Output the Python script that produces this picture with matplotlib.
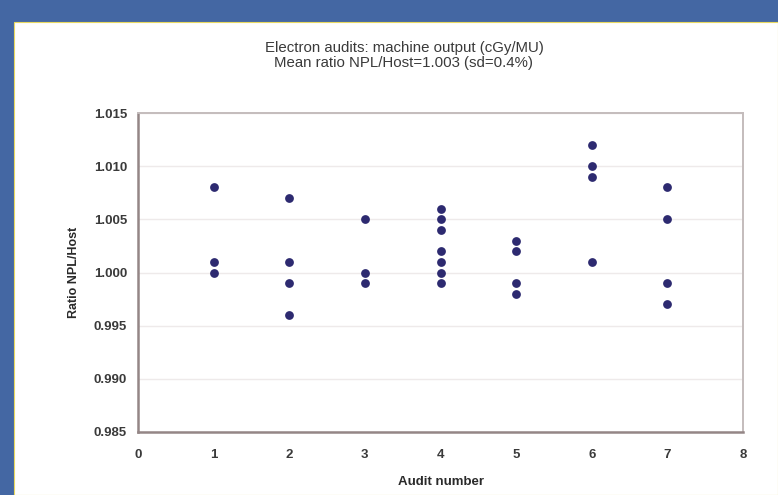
import matplotlib
matplotlib.use('Agg')
import matplotlib.pyplot as plt
from matplotlib.patches import Rectangle

# audit number -> measured NPL/Host ratios
audits = [1, 2, 3, 4, 5, 6, 7]
ratios = [
    [1.008, 1.001, 1.000],
    [1.007, 1.001, 0.999, 0.996],
    [1.005, 1.000, 0.999],
    [1.006, 1.005, 1.004, 1.002, 1.001, 1.000, 0.999],
    [1.003, 1.002, 0.999, 0.998],
    [1.012, 1.010, 1.009, 1.001],
    [1.008, 1.005, 0.999, 0.997],
]
x_ticks = [0, 1, 2, 3, 4, 5, 6, 7, 8]
y_ticks = [0.985, 0.990, 0.995, 1.000, 1.005, 1.010, 1.015]
title_lines = ["Electron audits: machine output (cGy/MU)",
               "Mean ratio NPL/Host=1.003 (sd=0.4%)"]

plt.rcParams['font.family'] = ['Liberation Sans', 'DejaVu Sans']

W, H = 778, 495
fig = plt.figure(figsize=(W / 100, H / 100), dpi=100)
fig.patch.set_facecolor('#4467a3')

# white slide panel with thin yellow edge
panel = Rectangle((14 / W, 0), 1 - 14 / W, 1 - 22 / H, transform=fig.transFigure,
                  facecolor='white', edgecolor='#e8d860', linewidth=0.8, zorder=-1)
fig.patches.append(panel)

left, right, top, bottom = 138, 743, 113, 432
ax = fig.add_axes([left / W, 1 - bottom / H, (right - left) / W, (bottom - top) / H])
ax.set_zorder(2)
ax.set_facecolor('white')

xs, ys = [], []
for a, vals in zip(audits, ratios):
    for v in vals:
        xs.append(a)
        ys.append(v)
ax.scatter(xs, ys, s=40, color='#2d2a70', zorder=3, linewidths=0)

ax.set_xlim(0, 8)
ax.set_ylim(0.985, 1.015)
ax.set_xticks(x_ticks)
ax.set_yticks(y_ticks)
ax.set_yticklabels([f"{t:.3f}" for t in y_ticks])
ax.grid(axis='y', color='#eeeaea', linewidth=1.0)
ax.set_axisbelow(True)

for side in ['left', 'bottom']:
    ax.spines[side].set_color('#948686')
    ax.spines[side].set_linewidth(1.8)
for side in ['top', 'right']:
    ax.spines[side].set_color('#c4bcbc')
    ax.spines[side].set_linewidth(1.4)

ax.tick_params(axis='both', length=0, labelsize=9.5, labelcolor='#3a3a3a')
ax.tick_params(axis='y', pad=8)
ax.tick_params(axis='x', pad=12)
for lbl in ax.get_xticklabels() + ax.get_yticklabels():
    lbl.set_fontweight('bold')
ax.set_xlabel("Audit number", fontsize=9.5, color='#2a2a2a', fontweight='bold', labelpad=11)
ax.set_ylabel("Ratio NPL/Host", fontsize=9, color='#2a2a2a', fontweight='bold', labelpad=10)

fig.text(404 / W, 1 - 48 / H, title_lines[0], ha='center', va='center',
         fontsize=10.8, color='#3a3a3a')
fig.text(404 / W, 1 - 63 / H, title_lines[1], ha='center', va='center',
         fontsize=10.8, color='#3a3a3a')

fig.savefig('out.png', dpi=100, facecolor=fig.get_facecolor())
